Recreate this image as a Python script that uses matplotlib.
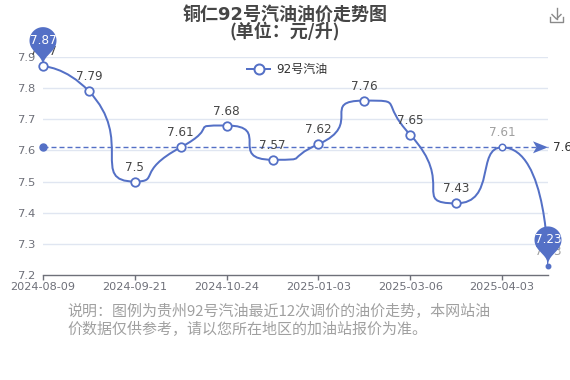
import matplotlib
matplotlib.use('Agg')
import matplotlib.pyplot as plt
from matplotlib.path import Path
from matplotlib.patches import PathPatch, Polygon
import numpy as np
import math

plt.rcParams['font.family'] = ['DejaVu Sans', 'Noto Sans CJK SC']

title_line1 = '铜仁92号汽油油价走势图'
title_line2 = '(单位：元/升)'
series_name = '92号汽油'
prices = [7.87, 7.79, 7.5, 7.61, 7.68, 7.57, 7.62, 7.76, 7.65, 7.43, 7.61, 7.23]
tick_labels = ['2024-08-09', '2024-09-21', '2024-10-24', '2025-01-03', '2025-03-06', '2025-04-03']
tick_index = [0, 2, 4, 6, 8, 10]
y_ticks = [7.2, 7.3, 7.4, 7.5, 7.6, 7.7, 7.8, 7.9]
note_line1 = '说明：图例为贵州92号汽油最近12次调价的油价走势，本网站油'
note_line2 = '价数据仅供参考，请以您所在地区的加油站报价为准。'

W, H = 570, 380
DPI = 100
BLUE = '#5470C6'
GRID = '#E0E6F1'
AXC = '#6E7079'
LAB = '#464646'


def pt(v):
    return v * 72.0 / DPI


def fy(ypx):
    return (H - ypx) / H


fig = plt.figure(figsize=(W / DPI, H / DPI), dpi=DPI)
ax = fig.add_axes([43 / W, fy(275), (548 - 43) / W, (275 - 57) / H])
n = len(prices)
xs = np.arange(n)
ax.set_xlim(0, n - 1)
ax.set_ylim(y_ticks[0], y_ticks[-1])

for s in ['top', 'right', 'left']:
    ax.spines[s].set_visible(False)
ax.spines['bottom'].set_color(AXC)
ax.spines['bottom'].set_linewidth(1)
ax.set_yticks(y_ticks)
ax.set_yticklabels([f'{v:g}' for v in y_ticks])
ax.tick_params(axis='y', length=0, pad=pt(8), labelsize=pt(11.5), labelcolor=AXC)
ax.set_xticks(tick_index)
ax.set_xticklabels(tick_labels)
ax.tick_params(axis='x', length=pt(5), width=1, color=AXC, pad=pt(2), labelsize=pt(11.3), labelcolor=AXC)
for v in y_ticks[1:]:
    ax.axhline(v, color=GRID, lw=1, zorder=0)

# ---- echarts-style smooth line ----
disp = ax.transData.transform(np.column_stack([xs, prices]))


def echarts_smooth(pts, smooth=1.0):
    verts = [tuple(pts[0])]
    codes = [Path.MOVETO]
    cp0 = tuple(pts[0])
    m = len(pts)
    for i in range(1, m):
        x, y = pts[i]
        pxx, pyy = pts[i - 1]
        if i == m - 1:
            cp1 = (x, y)
            ncp0 = None
        else:
            nx, ny = pts[i + 1]
            vx = nx - pxx
            vy = ny - pyy
            l0 = math.hypot(x - pxx, y - pyy)
            l1 = math.hypot(nx - x, ny - y)
            r = l1 / (l0 + l1)
            ncx = x + vx * smooth * r
            ncy = y + vy * smooth * r
            ncx = min(ncx, max(nx, x)); ncy = min(ncy, max(ny, y))
            ncx = max(ncx, min(nx, x)); ncy = max(ncy, min(ny, y))
            vx = ncx - x; vy = ncy - y
            c1x = x - vx * l0 / l1; c1y = y - vy * l0 / l1
            c1x = min(c1x, max(pxx, x)); c1y = min(c1y, max(pyy, y))
            c1x = max(c1x, min(pxx, x)); c1y = max(c1y, min(pyy, y))
            vx = x - c1x; vy = y - c1y
            ncx = x + vx * l1 / l0; ncy = y + vy * l1 / l0
            cp1 = (c1x, c1y)
            ncp0 = (ncx, ncy)
        verts += [cp0, cp1, (x, y)]
        codes += [Path.CURVE4] * 3
        cp0 = ncp0
    return verts, codes


verts, codes = echarts_smooth(disp)
inv = ax.transData.inverted()
line_path = Path(inv.transform(np.array(verts)), codes)
ax.add_patch(PathPatch(line_path, fill=False, ec=BLUE, lw=pt(2), zorder=3, capstyle='round', joinstyle='round'))

# markers
normal = [i for i in range(n) if i not in (10, 11)]
ax.plot(xs[normal], np.array(prices)[normal], 'o', ms=pt(8.5), mfc='white', mec=BLUE, mew=pt(1.8), zorder=7, clip_on=False)
ax.plot([10], [prices[10]], 'o', ms=pt(6.5), mfc='white', mec=BLUE, mew=pt(1.5), zorder=7, clip_on=False)
ax.plot([11], [prices[11]], 'o', ms=pt(4.5), mfc=BLUE, mec=BLUE, zorder=7, clip_on=False)

# data labels
for i, v in enumerate(prices):
    col = '#A0A0A0' if i >= 10 else LAB
    ax.annotate(f'{v:g}', (i, v), xytext=(0, pt(8)), textcoords='offset points',
                ha='center', va='bottom', fontsize=pt(12), color=col, zorder=4, annotation_clip=False)

# ---- average mark line ----
mean_v = round(float(np.mean(prices)), 2)
ax.plot([0, n - 1], [mean_v, mean_v], color=BLUE, lw=1, ls=(0, (pt(5), pt(3))), zorder=2, clip_on=False)
ax.plot([0], [mean_v], 'o', ms=pt(7), color=BLUE, zorder=6, clip_on=False)
tx, ty = ax.transData.transform((n - 1, mean_v))
arrow = np.array([(tx, ty), (tx - 15, ty + 6), (tx - 11.5, ty), (tx - 15, ty - 6)])
ax.add_patch(Polygon(inv.transform(arrow), closed=True, fc=BLUE, ec='none', zorder=6, clip_on=False))
ax.annotate(f'{mean_v:g}', (n - 1, mean_v), xytext=(pt(5), 0), textcoords='offset points',
            ha='left', va='center', fontsize=pt(12), color='#333333', annotation_clip=False)


# ---- pins (max / min) ----
def draw_pin(i, v, r=13.5, h=45.0):
    tx, ty = ax.transData.transform((i, v))
    dy = r * r / (h - r)
    cy = ty + (h - r - dy)
    ang = math.asin(dy / r)
    dx = math.cos(ang) * r
    tanX, tanY = math.sin(ang), math.cos(ang)
    cpl, cpl2 = r * 0.6, r * 0.7
    pv = []
    pc = []
    thetas = np.linspace(math.pi + ang, -ang, 60)
    for k, t in enumerate(thetas):
        pv.append((tx + r * math.cos(t), cy + r * math.sin(t)))
        pc.append(Path.MOVETO if k == 0 else Path.LINETO)
    pv += [(tx + dx - tanX * cpl, cy - dy - tanY * cpl), (tx, ty + cpl2), (tx, ty)]
    pc += [Path.CURVE4] * 3
    pv += [(tx, ty + cpl2), (tx - dx + tanX * cpl, cy - dy - tanY * cpl), (tx - dx, cy - dy)]
    pc += [Path.CURVE4] * 3
    pv.append(pv[0]); pc.append(Path.CLOSEPOLY)
    ax.add_patch(PathPatch(Path(inv.transform(np.array(pv)), pc), fc=BLUE, ec='none', zorder=5, clip_on=False))
    ax.annotate(f'{v:g}', (i, v), xytext=(0, pt(h - r - dy)), textcoords='offset points',
                ha='center', va='center', fontsize=pt(12), color='white', zorder=6, annotation_clip=False)


imax = int(np.argmax(prices))
imin = int(np.argmin(prices))
draw_pin(imax, prices[imax])
draw_pin(imin, prices[imin])

# ---- title ----
fig.text(285 / W, fy(15), title_line1, ha='center', va='center', fontsize=pt(18), fontweight='bold', color=LAB)
fig.text(285 / W, fy(31), title_line2, ha='center', va='center', fontsize=pt(18), fontweight='bold', color=LAB,
         family=['Noto Sans CJK SC', 'DejaVu Sans'])

# ---- legend ----
ly = fy(69)
fig.add_artist(plt.Line2D([247 / W, 270 / W], [ly, ly], color=BLUE, lw=pt(2)))
fig.add_artist(plt.Line2D([258.5 / W], [ly], marker='o', ms=pt(10), mfc='white', mec=BLUE, mew=pt(2)))
fig.text(276 / W, ly, series_name, ha='left', va='center', fontsize=pt(12), color='#333333')

# ---- download icon ----
ic = '#8A8A8A'
fig.add_artist(plt.Line2D([556.5 / W, 556.5 / W], [fy(8), fy(19)], color=ic, lw=1))
fig.add_artist(plt.Line2D([552 / W, 556.5 / W, 561 / W], [fy(14.5), fy(19), fy(14.5)], color=ic, lw=1))
fig.add_artist(plt.Line2D([550 / W, 550 / W, 563 / W, 563 / W], [fy(17), fy(21.5), fy(21.5), fy(17)], color=ic, lw=1))

# ---- note ----
fig.text(67 / W, fy(311), note_line1, ha='left', va='center', fontsize=pt(15), color='#A0A0A0', family=['Noto Sans CJK SC', 'DejaVu Sans'])
fig.text(67 / W, fy(329), note_line2, ha='left', va='center', fontsize=pt(15), color='#A0A0A0', family=['Noto Sans CJK SC', 'DejaVu Sans'])

fig.savefig('out.png', dpi=DPI)
